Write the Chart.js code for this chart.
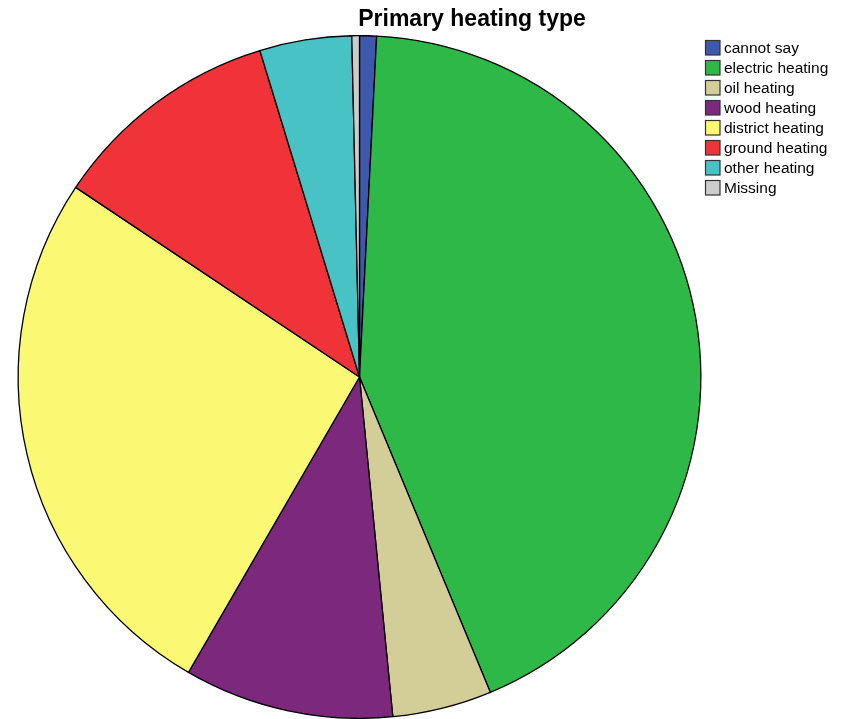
<!DOCTYPE html>
<html>
<head>
<meta charset="utf-8">
<title>Primary heating type</title>
<script src="https://cdn.jsdelivr.net/npm/chart.js@4"></script>
<style>
  html, body { margin: 0; padding: 0; background: #fff; }
  #grafico { display: block; }
</style>
</head>
<body>
<canvas id="grafico" width="843" height="719"></canvas>
<script>
// categorias y porcentajes de cada tipo de calefaccion
const categorias = ['cannot say', 'electric heating', 'oil heating', 'wood heating',
                    'district heating', 'ground heating', 'other heating', 'Missing'];
const porcentajes = [0.8, 42.9, 4.7, 9.9, 26.0, 10.9, 4.35, 0.36];
const colores = ['#3E58AC', '#2EB848', '#D3CE97', '#7C287D',
                 '#FBF873', '#EF3338', '#48C2C5', '#CCCCCC'];
const titulo = 'Primary heating type';

// titulo y leyenda dibujados a mano, al estilo de SPSS
const leyendaSPSS = {
    id: 'leyendaSPSS',
    afterDraw(chart) {
        const ctx = chart.ctx;
        ctx.save();
        ctx.fillStyle = '#000';
        ctx.font = 'bold 23px "Liberation Sans", Arial, sans-serif';
        ctx.textAlign = 'center';
        ctx.textBaseline = 'alphabetic';
        ctx.fillText(titulo, 472, 26);

        ctx.font = '15.5px "Liberation Sans", Arial, sans-serif';
        ctx.textAlign = 'left';
        ctx.textBaseline = 'middle';
        chart.data.labels.forEach((etiqueta, i) => {
            let y = 47.5 + i * 20;
            ctx.fillStyle = chart.data.datasets[0].backgroundColor[i];
            ctx.fillRect(705, y - 7.5, 15, 15);
            ctx.strokeStyle = '#333';
            ctx.lineWidth = 1.2;
            ctx.strokeRect(705.5, y - 7, 14.5, 14.5);
            ctx.fillStyle = '#000';
            ctx.fillText(etiqueta, 724, y + 1);
        });
        ctx.restore();
    }
};

const grafi = document.getElementById('grafico');
let confi = {
    type: 'pie',
    data: {
        labels: categorias,
        datasets: [{
            data: porcentajes,
            backgroundColor: colores,
            borderColor: '#000',
            borderWidth: 1.3
        }]
    },
    options: {
        responsive: false,
        animation: false,
        events: [],
        layout: { padding: { left: 17, right: 141, top: 35, bottom: 0 } },
        plugins: {
            legend: { display: false },
            title: { display: false },
            tooltip: { enabled: false }
        }
    },
    plugins: [leyendaSPSS]
};
new Chart(grafi, confi);
</script>
</body>
</html>
